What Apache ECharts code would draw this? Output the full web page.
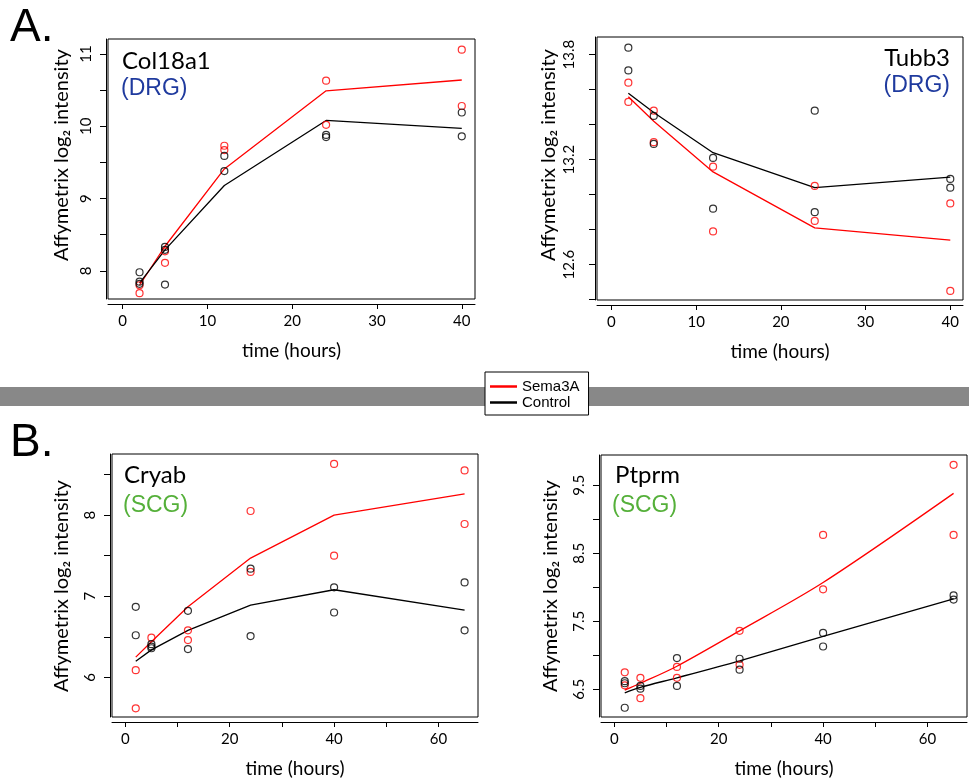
<!DOCTYPE html>
<html>
<head>
<meta charset="utf-8">
<script src="https://cdn.jsdelivr.net/npm/echarts@6/dist/echarts.min.js"></script>
<style>html,body{margin:0;padding:0;background:#fff}</style>
</head>
<body>
<div id="main" style="width:969px;height:783px"></div>
<script>
// time points (hours)
var hoursDRG = [2, 5, 12, 24, 40];
var hoursSCG = [2, 5, 12, 24, 40, 65];
var xTicksDRG = [0, 10, 20, 30, 40];
var xTicksSCG = [0, 10, 20, 30, 40, 50, 60];
var xLabelsSCG = [0, 20, 40, 60];

// Col18a1 (DRG) replicates per time point
var col18a1Sema = [[7.80, 7.69], [8.27, 8.11], [9.73, 9.67], [10.63, 10.02], [11.06, 10.28]];
var col18a1Ctrl = [[7.98, 7.85, 7.82], [8.33, 8.29, 7.81], [9.59, 9.38], [9.88, 9.85], [10.19, 9.86]];
var col18a1SemaLine = [7.80, 8.34, 9.41, 10.49, 10.64];
var col18a1CtrlLine = [7.83, 8.29, 9.18, 10.08, 9.97];
var col18a1YTicks = [8, 8.5, 9, 9.5, 10, 10.5, 11];
var col18a1YLabels = [8, 9, 10, 11];

// Tubb3 (DRG)
var tubb3Sema = [[13.64, 13.53], [13.48, 13.30], [13.16, 12.79], [13.05, 12.85], [12.95, 12.45]];
var tubb3Ctrl = [[13.84, 13.71], [13.45, 13.29], [13.21, 12.92], [13.48, 12.90], [13.09, 13.04]];
var tubb3SemaLine = [13.56, 13.42, 13.13, 12.81, 12.74];
var tubb3CtrlLine = [13.58, 13.47, 13.24, 13.04, 13.10];
var tubb3YTicks = [12.4, 12.6, 12.8, 13.0, 13.2, 13.4, 13.6, 13.8];
var tubb3YLabels = [12.6, 13.2, 13.8];

// Cryab (SCG)
var cryabSema = [[6.09, 5.62], [6.49], [6.58, 6.46], [8.05, 7.30], [8.63, 7.50], [8.55, 7.89]];
var cryabCtrl = [[6.87, 6.52], [6.41, 6.38, 6.36], [6.82, 6.35], [7.34, 6.51], [7.11, 6.80], [7.17, 6.58]];
var cryabSemaLine = [6.25, 6.44, 6.87, 7.47, 8.00, 8.26];
var cryabCtrlLine = [6.20, 6.34, 6.58, 6.89, 7.08, 6.83];
var cryabYTicks = [6, 6.5, 7, 7.5, 8, 8.5];
var cryabYLabels = [6, 7, 8];

// Ptprm (SCG)
var ptprmSema = [[6.75, 6.56], [6.67, 6.37], [6.83, 6.67], [7.36, 6.86], [8.77, 7.97], [9.80, 8.77]];
var ptprmCtrl = [[6.62, 6.59, 6.23], [6.55, 6.51], [6.96, 6.55], [6.95, 6.79], [7.33, 7.13], [7.88, 7.82]];
var ptprmSemaLine = [6.49, 6.59, 6.84, 7.36, 8.07, 9.38];
var ptprmCtrlLine = [6.45, 6.53, 6.67, 6.92, 7.28, 7.83];
var ptprmYTicks = [6.5, 7, 7.5, 8, 8.5, 9, 9.5];
var ptprmYLabels = [6.5, 7.5, 8.5, 9.5];

var RED = '#ff0000', BLACK = '#000000';
var TXT = 'Lato';

function pts(hours, reps) {
    var out = [];
    reps.forEach(function (r, i) {
        r.forEach(function (v) { out.push([hours[i], v]); });
    });
    return out;
}
function pairs(hours, vals) {
    return vals.map(function (v, i) { return [hours[i], v]; });
}

var panels = [
    {grid: {left: 108, top: 39, width: 367, height: 260},
     x: [-1.72, 41.56, xTicksDRG, xTicksDRG], y: [7.61, 11.207, col18a1YTicks, col18a1YLabels], ym: 12,
     hours: hoursDRG, sema: col18a1Sema, ctrl: col18a1Ctrl, semaLine: col18a1SemaLine, ctrlLine: col18a1CtrlLine},
    {grid: {left: 597, top: 37, width: 366, height: 263},
     x: [-1.7, 41.5, xTicksDRG, xTicksDRG], y: [12.398, 13.901, tubb3YTicks, tubb3YLabels], ym: 18,
     hours: hoursDRG, sema: tubb3Sema, ctrl: tubb3Ctrl, semaLine: tubb3SemaLine, ctrlLine: tubb3CtrlLine},
    {grid: {left: 112, top: 454, width: 366, height: 263},
     x: [-2.55, 67.57, xTicksSCG, xLabelsSCG], y: [5.513, 8.752, cryabYTicks, cryabYLabels], ym: 12,
     hours: hoursSCG, sema: cryabSema, ctrl: cryabCtrl, semaLine: cryabSemaLine, ctrlLine: cryabCtrlLine},
    {grid: {left: 601, top: 455, width: 366, height: 262},
     x: [-2.55, 67.57, xTicksSCG, xLabelsSCG], y: [6.094, 9.944, ptprmYTicks, ptprmYLabels], ym: 12,
     hours: hoursSCG, sema: ptprmSema, ctrl: ptprmCtrl, semaLine: ptprmSemaLine, ctrlLine: ptprmCtrlLine, smooth: true}
];

var grids = [], xAxes = [], yAxes = [], series = [];
panels.forEach(function (p, i) {
    grids.push({left: p.grid.left, top: p.grid.top, width: p.grid.width, height: p.grid.height,
        show: true, borderColor: '#000', borderWidth: 1, backgroundColor: 'transparent'});
    xAxes.push({
        gridIndex: i, type: 'value', min: p.x[0], max: p.x[1], offset: 5,
        name: 'time (hours)', nameLocation: 'middle', nameGap: 37,
        nameTextStyle: {fontFamily: TXT, fontSize: 19, color: '#000'},
        axisLine: {show: true, onZero: false, lineStyle: {color: '#000', width: 1}},
        axisTick: {show: true, length: 5, customValues: p.x[2], lineStyle: {color: '#000'}},
        axisLabel: {customValues: p.x[3], margin: 10, fontFamily: TXT, fontSize: 15, color: '#000'},
        splitLine: {show: false}
    });
    yAxes.push({
        gridIndex: i, type: 'value', min: p.y[0], max: p.y[1], offset: 2,
        axisLine: {show: true, onZero: false, lineStyle: {color: '#000', width: 1}},
        axisTick: {show: true, length: 6, customValues: p.y[2], lineStyle: {color: '#000'}},
        axisLabel: {customValues: p.y[3], rotate: 90, margin: p.ym, fontFamily: TXT, fontSize: 15, color: '#000'},
        splitLine: {show: false}
    });
    var sym = function (c) {
        return {type: 'scatter', xAxisIndex: i, yAxisIndex: i, symbol: 'circle', symbolSize: 7,
            itemStyle: {color: 'rgba(0,0,0,0)', borderColor: c, borderWidth: 1.2}, z: 3};
    };
    var s1 = sym(RED); s1.name = 'Sema3A pts'; s1.data = pts(p.hours, p.sema);
    var s2 = sym(BLACK); s2.name = 'Control pts'; s2.data = pts(p.hours, p.ctrl);
    series.push({type: 'line', name: 'Sema3A', xAxisIndex: i, yAxisIndex: i, showSymbol: false,
        smooth: p.smooth ? 0.3 : false, lineStyle: {color: RED, width: 1.3}, itemStyle: {color: RED},
        data: pairs(p.hours, p.semaLine)});
    series.push({type: 'line', name: 'Control', xAxisIndex: i, yAxisIndex: i, showSymbol: false,
        smooth: p.smooth ? 0.3 : false, lineStyle: {color: BLACK, width: 1.3}, itemStyle: {color: BLACK},
        data: pairs(p.hours, p.ctrlLine)});
    series.push(s1, s2);
});

function label(text, x, y, size, color, family, align) {
    return {type: 'text', x: x, y: y, z: 10,
        style: {text: text, fontSize: size, fontFamily: family, fill: color,
            align: align || 'left', verticalAlign: 'middle'}};
}
function yTitle(x, y) {
    return {type: 'text', x: x, y: y, rotation: Math.PI / 2, z: 10,
        style: {text: 'Affymetrix log\u2082 intensity', fontSize: 20, fontFamily: TXT, fill: '#000',
            align: 'center', verticalAlign: 'middle'}};
}

var option = {
    animation: false,
    backgroundColor: '#fff',
    grid: grids,
    xAxis: xAxes,
    yAxis: yAxes,
    series: series,
    legend: {
        data: ['Sema3A', 'Control'], orient: 'vertical', left: 485, top: 372,
        icon: 'rect', itemWidth: 27, itemHeight: 2.5, itemGap: 1,
        padding: [7, 9, 5, 5], backgroundColor: '#fff', borderColor: '#000', borderWidth: 1,
        textStyle: {fontFamily: 'Liberation Sans', fontSize: 15, color: '#000'},
        selectedMode: false
    },
    graphic: [
        {type: 'rect', shape: {x: 0, y: 387, width: 969, height: 19}, style: {fill: '#888888'}, z: 0},
        label('A.', 10, 28, 46, '#000', 'Liberation Sans'),
        label('B.', 10, 443, 46, '#000', 'Liberation Sans'),
        label('Col18a1', 122, 61, 24, '#000', TXT),
        label('(DRG)', 121, 89, 23, '#1f3a9e', 'Liberation Sans'),
        label('Tubb3', 950, 58, 24, '#000', TXT, 'right'),
        label('(DRG)', 950, 86, 23, '#1f3a9e', 'Liberation Sans', 'right'),
        label('Cryab', 124, 475, 24, '#000', TXT),
        label('(SCG)', 123, 506, 23, '#55b03a', 'Liberation Sans'),
        label('Ptprm', 615, 475, 24, '#000', TXT),
        label('(SCG)', 612, 506, 23, '#55b03a', 'Liberation Sans'),
        yTitle(62, 155),
        yTitle(549, 155),
        yTitle(62, 586),
        yTitle(551, 586)
    ]
};

var myChart = echarts.init(document.getElementById('main'));
myChart.setOption(option);
</script>
</body>
</html>
